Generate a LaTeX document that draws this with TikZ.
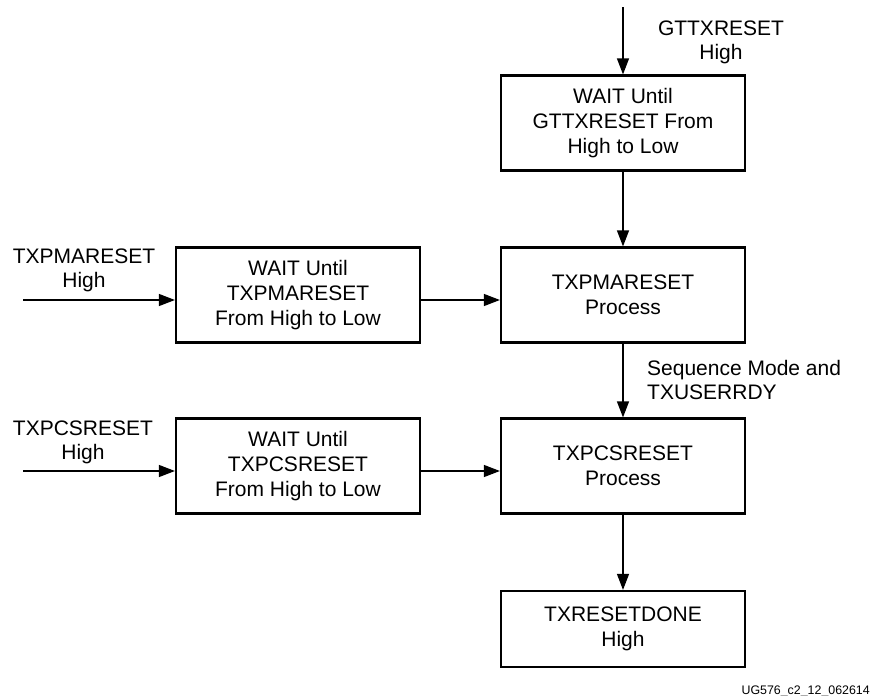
\documentclass[tikz,border=0pt]{standalone}
\usepackage{fontspec}
\setmainfont{Liberation Sans}
\usetikzlibrary{arrows.meta}
\begin{document}
\begin{tikzpicture}[x=1pt,y=-1pt,
  box/.style={draw, line width=2.2pt, minimum width=244pt, minimum height=95pt,
    align=center, inner sep=0pt, font=\fontsize{21}{25}\selectfont},
  arr/.style={line width=1.2pt, -{Triangle[length=16pt,width=12pt]}},
  lbl/.style={inner sep=0pt, font=\fontsize{21}{24.5}\selectfont}]
\useasboundingbox (0,0) rectangle (871,696);

% boxes
\node[box] (A) at (623,123) {WAIT Until\\GTTXRESET From\\High to Low};
\node[box] (B) at (623,295) {TXPMARESET\\Process};
\node[box] (C) at (298,295) {WAIT Until\\TXPMARESET\\From High to Low};
\node[box] (D) at (623,466) {TXPCSRESET\\Process};
\node[box] (E) at (298,466) {WAIT Until\\TXPCSRESET\\From High to Low};
\node[box, minimum height=76pt] (F) at (623,629) {TXRESETDONE\\High};

% labels
\node[lbl, anchor=base] (lg) at (721,35) {\begin{tabular}[t]{@{}c@{}}GTTXRESET\\High\end{tabular}};
\node[lbl, anchor=base] (lp) at (84,263) {\begin{tabular}[t]{@{}c@{}}TXPMARESET\\High\end{tabular}};
\node[lbl, anchor=base] (lc) at (83,435) {\begin{tabular}[t]{@{}c@{}}TXPCSRESET\\High\end{tabular}};
\node[lbl, anchor=base west] (ls) at (647,375) {\begin{tabular}[t]{@{}l@{}}Sequence Mode and\\TXUSERRDY\end{tabular}};
\node[inner sep=0pt, anchor=base east, font=\fontsize{12.4}{14}\selectfont] (fig) at (870,694) {UG576\_c2\_12\_062614};

% free ends
\coordinate (topin) at (623,7);
\coordinate (inP) at (23,300);
\coordinate (inC) at (23,471);

% connectors
\draw[arr] (topin) -- (A.north);
\draw[arr] (A.south) -- (B.north);
\draw[arr] (B.south) -- (D.north);
\draw[arr] (D.south) -- (F.north);
\draw[arr] (inP) -- (C.west |- inP);
\draw[arr] (C.east |- inP) -- (B.west |- inP);
\draw[arr] (inC) -- (E.west |- inC);
\draw[arr] (E.east |- inC) -- (D.west |- inC);
\end{tikzpicture}
\end{document}
